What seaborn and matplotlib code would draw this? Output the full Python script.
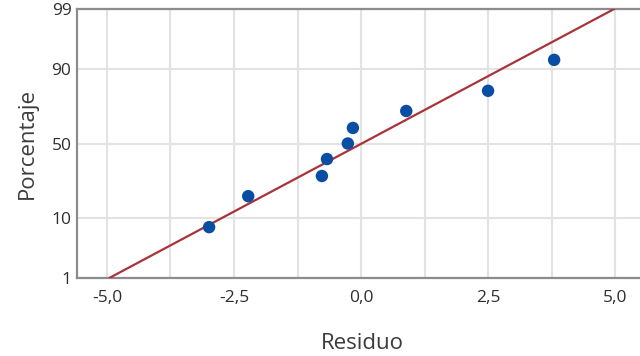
import numpy as np
import pandas as pd
import matplotlib
matplotlib.use("Agg")
import matplotlib.pyplot as plt
import seaborn as sns
from statistics import NormalDist

# Residuals and their plotted percentages (median ranks)
residuos = [-2.99, -2.22, -0.77, -0.67, -0.26, -0.16, 0.89, 2.50, 3.80]
porcentajes = [7.4, 18.1, 28.7, 39.4, 50.0, 60.6, 71.3, 81.9, 92.6]
y_ticks = [1, 10, 50, 90, 99]
x_ticks = [-5.0, -2.5, 0.0, 2.5, 5.0]
x_tick_labels = ["-5,0", "-2,5", "0,0", "2,5", "5,0"]

sns.set_theme(style="white")
plt.rcParams["font.family"] = ["Open Sans", "DejaVu Sans"]

nd = NormalDist()
_ppf = np.vectorize(lambda p: nd.inv_cdf(min(max(p / 100.0, 1e-9), 1 - 1e-9)),
                    otypes=[float])
_cdf = np.vectorize(lambda z: nd.cdf(z) * 100.0, otypes=[float])

fig = plt.figure(figsize=(6.4, 3.56), dpi=100)
ax = fig.add_axes([77 / 640, 78 / 356, (640 - 77) / 640, 269 / 356])
ax.set_yscale("function", functions=(_ppf, _cdf))

df = pd.DataFrame({"Residuo": residuos, "Porcentaje": porcentajes})

# Fitted normal reference line
mu = float(np.mean(residuos))
sd = float(np.std(residuos, ddof=1))
p_line = [1.0, 99.0]
x_line = [mu + sd * nd.inv_cdf(p / 100) for p in p_line]
sns.lineplot(x=x_line, y=p_line, ax=ax, color="#a8343a", linewidth=1.6, zorder=3)

sns.scatterplot(data=df, x="Residuo", y="Porcentaje", ax=ax, color="#0a4ea3",
                s=80, edgecolor="none", zorder=4)

ax.set_xlim(-5.59, 5.49)
ax.set_ylim(1, 99)
ax.set_xticks(x_ticks)
ax.set_xticklabels(x_tick_labels)
ax.set_xticks(np.arange(-5.0, 5.5, 1.25), minor=True)
ax.set_yticks(y_ticks)
ax.set_yticklabels([str(t) for t in y_ticks])
ax.yaxis.set_minor_locator(matplotlib.ticker.NullLocator())

ax.grid(True, which="both", axis="x", color="#e3e3e3", linewidth=1.5)
ax.grid(True, which="major", axis="y", color="#e3e3e3", linewidth=1.5)
ax.set_axisbelow(True)

for side in ["left", "bottom", "top"]:
    ax.spines[side].set_color("#8c8c8c")
    ax.spines[side].set_linewidth(1.6)
ax.spines["right"].set_visible(False)

ax.tick_params(axis="both", which="major", length=3, width=1, color="#8c8c8c",
               labelsize=12.5, labelcolor="#2e2e2e", pad=1)
ax.tick_params(axis="x", which="minor", length=0)
ax.tick_params(axis="x", which="major", pad=6)

ax.set_xlabel("Residuo", fontsize=16, color="#3c3c3c", va="center")
ax.set_ylabel("Porcentaje", fontsize=16, color="#3c3c3c", va="center")
ax.xaxis.set_label_coords(0.506, -0.242)
ax.yaxis.set_label_coords(-0.089, 0.5)

fig.savefig("out.png", dpi=100, facecolor="white")
